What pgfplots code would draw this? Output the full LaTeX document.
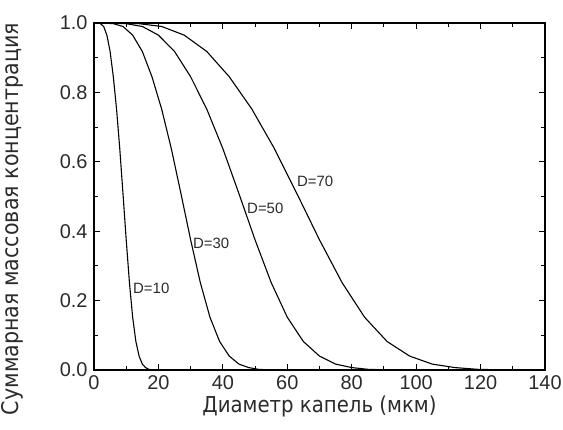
\documentclass[border=0pt]{standalone}
\usepackage{pgfplots}
\pgfplotsset{compat=1.18}
\usepackage{pgfplotstable}
\usepackage{fontspec}
\setmainfont{Liberation Sans}
\newfontfamily\labelfont{DejaVu Sans Condensed}
\definecolor{txt}{HTML}{2B2B2B}

% cumulative mass fraction for four droplet size spectra
\pgfplotstableread{
x y
0 1.000
1 1.000
2 0.998
3 0.990
4 0.965
5 0.918
6 0.845
7 0.752
8 0.638
9 0.508
10 0.375
11 0.252
12 0.152
13 0.082
14 0.040
15 0.017
16 0.007
17 0.002
18 0.0005
19 0.0001
20 0.000
}\dten
\pgfplotstableread{
x y
0 1.000
3 1.000
6 0.998
9 0.990
12 0.965
15 0.918
18 0.845
21 0.752
24 0.638
27 0.508
30 0.375
33 0.252
36 0.152
39 0.082
42 0.040
45 0.017
48 0.007
51 0.002
54 0.0005
57 0.0001
60 0.000
}\dthirty
\pgfplotstableread{
x y
0 1.000
5 1.000
10 0.998
15 0.990
20 0.965
25 0.918
30 0.845
35 0.752
40 0.638
45 0.508
50 0.375
55 0.252
60 0.152
65 0.082
70 0.040
75 0.017
80 0.007
85 0.002
90 0.0005
95 0.0001
100 0.000
}\dfifty
\pgfplotstableread{
x y
0 1.000
7 1.000
14 0.998
21 0.990
28 0.965
35 0.918
42 0.845
49 0.752
56 0.638
63 0.508
70 0.375
77 0.252
84 0.152
91 0.082
98 0.040
105 0.017
112 0.007
119 0.002
126 0.0005
133 0.0001
140 0.000
}\dseventy

\begin{document}
\begin{tikzpicture}
\begin{axis}[
  scale only axis,
  width=451bp, height=347bp,
  xmin=0, xmax=140, ymin=0, ymax=1,
  xtick={0,20,...,140}, minor x tick num=1,
  ytick={0,0.2,...,1.0}, minor y tick num=1,
  tick align=inside, tick pos=both,
  major tick length=6bp, minor tick length=4bp,
  every tick/.style={line width=1bp, black},
  axis line style={line width=1.2bp, black},
  /pgf/number format/assume math mode=true,
  ticklabel style={font=\fontsize{20}{22}\selectfont, text=txt},
  xticklabel style={yshift=-2bp},
  yticklabel style={xshift=-3bp, /pgf/number format/.cd, fixed, fixed zerofill, precision=1},
  xlabel={Диаметр капель (мкм)},
  ylabel={Суммарная массовая концентрация},
  xlabel style={font=\labelfont\fontsize{22}{24}\selectfont, text=txt,
    at={(axis description cs:0.5,-0.104)}, anchor=center},
  ylabel style={font=\labelfont\fontsize{23}{25}\selectfont, text=txt,
    at={(axis description cs:-0.182,0.435)}, anchor=center, rotate=0},
  clip=false,
]
\addplot[black, line width=1.1bp] table {\dten};
\addplot[black, line width=1.1bp] table {\dthirty};
\addplot[black, line width=1.1bp] table {\dfifty};
\addplot[black, line width=1.1bp] table {\dseventy};

\node[anchor=west, inner sep=0pt, font=\fontsize{15}{17}\selectfont, text=txt] at (axis cs:12.1,0.236) {D=10};
\node[anchor=west, inner sep=0pt, font=\fontsize{15}{17}\selectfont, text=txt] at (axis cs:30.7,0.366) {D=30};
\node[anchor=west, inner sep=0pt, font=\fontsize{15}{17}\selectfont, text=txt] at (axis cs:47.5,0.467) {D=50};
\node[anchor=west, inner sep=0pt, font=\fontsize{15}{17}\selectfont, text=txt] at (axis cs:63.0,0.545) {D=70};
\end{axis}
\pgfresetboundingbox
\path[use as bounding box] (-94bp,-60bp) rectangle (469bp,370bp);
\end{tikzpicture}
\end{document}
